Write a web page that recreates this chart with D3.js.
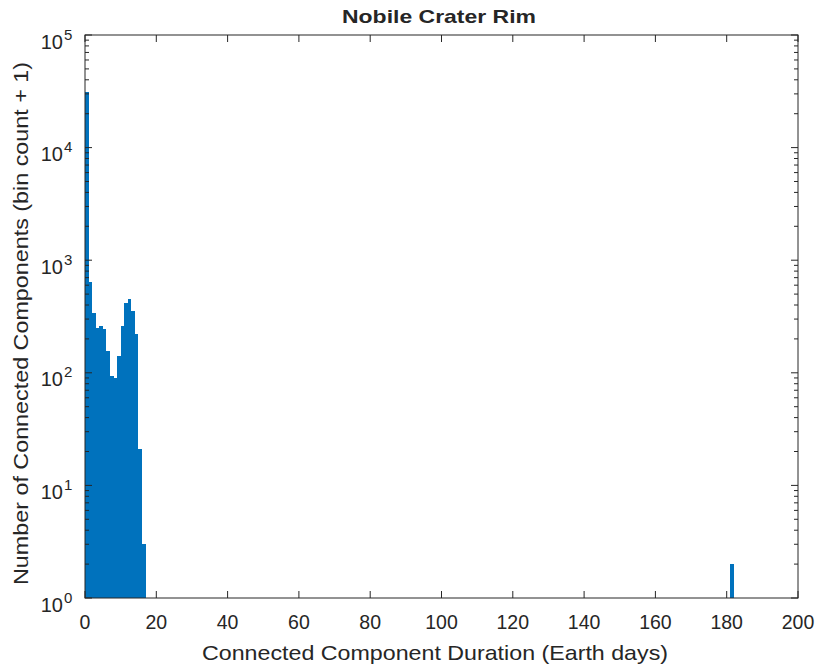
<!DOCTYPE html>
<html lang="en">
<head>
  <meta charset="UTF-8">
  <title>Nobile Crater Rim</title>
  <script src="https://d3js.org/d3.v7.min.js"></script>
  <style>
    body { margin: 0; background: #fff; }
    svg { display: block; }
    text { font-family: "Liberation Sans", Arial, sans-serif; fill: #262626; }
  </style>
</head>
<body>
  <svg></svg>
  <script>
    // bins (left edges, Earth days, width 1) and values (bin count + 1)
    const binStarts = [0, 1, 2, 3, 4, 5, 6, 7, 8, 9, 10, 11, 12, 13, 14, 15, 16, 181];
    const binValues = [31200, 640, 340, 250, 260, 245, 156, 94, 90, 141, 260, 417, 452, 354, 221, 21, 3, 2];
    const binWidth = 1;
    const xTicks = [0, 20, 40, 60, 80, 100, 120, 140, 160, 180, 200];
    const yExponents = [0, 1, 2, 3, 4, 5];

    const W = 817, H = 668;
    const margin = {top: 35, right: 19, bottom: 70, left: 85};
    const width = W - margin.left - margin.right;
    const height = H - margin.top - margin.bottom;
    const axisColor = '#262626';
    const barColor = '#0072BD';

    const svg = d3.select('svg').attr('width', W).attr('height', H);
    const g = svg.append('g').attr('transform', `translate(${margin.left},${margin.top})`);

    const x = d3.scaleLinear().domain([0, 200]).range([0, width]);
    const y = d3.scaleLog().domain([1, 1e5]).range([height, 0]);

    // barras
    g.selectAll('rect.bar')
      .data(binStarts)
      .enter()
      .append('rect')
      .attr('class', 'bar')
      .attr('x', d => x(d))
      .attr('width', d => x(d + binWidth) - x(d))
      .attr('y', (d, i) => y(binValues[i]))
      .attr('height', (d, i) => y(1) - y(binValues[i]))
      .attr('fill', barColor)
      .attr('shape-rendering', 'crispEdges');

    // caixa
    g.append('rect')
      .attr('width', width).attr('height', height)
      .attr('fill', 'none').attr('stroke', axisColor).attr('stroke-width', 1);

    // ticks x (para dentro, em baixo e em cima)
    const tl = 7;
    xTicks.forEach(t => {
      g.append('line').attr('x1', x(t)).attr('x2', x(t)).attr('y1', height).attr('y2', height - tl)
        .attr('stroke', axisColor);
      g.append('line').attr('x1', x(t)).attr('x2', x(t)).attr('y1', 0).attr('y2', tl)
        .attr('stroke', axisColor);
      g.append('text').attr('x', x(t)).attr('y', height + 31)
        .attr('text-anchor', 'middle').attr('font-size', 19.5).text(t);
    });

    // ticks y (log, maiores e menores)
    yExponents.forEach(e => {
      const v = Math.pow(10, e);
      [[0, tl], [width, width - tl]].forEach(([a, b]) => {
        g.append('line').attr('x1', a).attr('x2', b).attr('y1', y(v)).attr('y2', y(v)).attr('stroke', axisColor);
      });
      g.append('text').attr('x', -22).attr('y', y(v) + 13.5)
        .attr('text-anchor', 'end').attr('font-size', 20).text('10');
      g.append('text').attr('x', -21).attr('y', y(v) + 4.5)
        .attr('text-anchor', 'start').attr('font-size', 15).text(e);
      if (e < 5) {
        for (let k = 2; k <= 9; k++) {
          const mv = k * v;
          [[0, 4], [width, width - 4]].forEach(([a, b]) => {
            g.append('line').attr('x1', a).attr('x2', b).attr('y1', y(mv)).attr('y2', y(mv)).attr('stroke', axisColor);
          });
        }
      }
    });

    // titulo e rotulos
    svg.append('text').attr('x', 342).attr('y', 23)
      .attr('font-size', 18.5).attr('font-weight', 'bold')
      .attr('textLength', 194).attr('lengthAdjust', 'spacingAndGlyphs')
      .attr('fill', '#000').text('Nobile Crater Rim');

    svg.append('text').attr('x', 202).attr('y', 660)
      .attr('font-size', 21)
      .attr('textLength', 466).attr('lengthAdjust', 'spacingAndGlyphs')
      .text('Connected Component Duration (Earth days)');

    svg.append('text')
      .attr('transform', 'translate(28,585) rotate(-90)')
      .attr('font-size', 21)
      .attr('textLength', 523).attr('lengthAdjust', 'spacingAndGlyphs')
      .text('Number of Connected Components (bin count + 1)');
  </script>
</body>
</html>
